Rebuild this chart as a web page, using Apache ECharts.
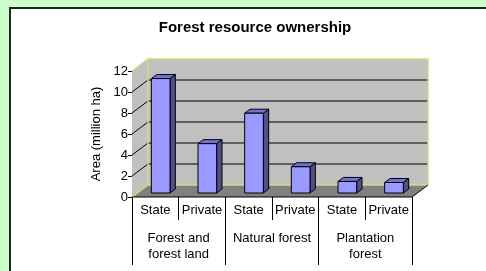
<!DOCTYPE html>
<html>
<head>
<meta charset="utf-8">
<script src="https://cdn.jsdelivr.net/npm/echarts@6/dist/echarts.min.js"></script>
<style>
body{margin:0;background:#CCFFCC;overflow:hidden;}
#box{position:absolute;left:9px;top:7px;width:500px;height:300px;background:#fff;border:2px solid #222;}
#main{position:absolute;left:0;top:0;width:486px;height:271px;}
</style>
</head>
<body>
<div id="box"></div>
<div id="main"></div>
<script>
// forest resource ownership data
var owners = ['State','Private','State','Private','State','Private']
var groups = ['Forest and\nforest land','Natural forest','Plantation\nforest']
var areas = [10.9, 4.7, 7.6, 2.5, 1.1, 1.0]
var yTicks = [0,2,4,6,8,10,12]

var DX = 16, DY = -12   // depth of the fake 3d box
var font = 'Liberation Sans, Arial, sans-serif'

var chart = echarts.init(document.getElementById('main'))

function wallItem(params, api){
	var band = api.size([1,0])[0]
	var x0 = api.coord([0,0])[0] - band/2
	var x1 = api.coord([owners.length-1,0])[0] + band/2
	var yb = api.coord([0,yTicks[0]])[1]
	var yt = api.coord([0,yTicks[yTicks.length-1]])[1]
	var kids = []
	// back wall
	kids.push({type:'rect',shape:{x:x0+DX,y:yt+DY,width:x1-x0,height:yb-yt},style:{fill:'#C0C0C0',stroke:null}})
	// side wall
	kids.push({type:'polygon',shape:{points:[[x0,yt],[x0+DX,yt+DY],[x0+DX,yb+DY],[x0,yb]]},style:{fill:'#C0C0C0',stroke:null}})
	// floor
	kids.push({type:'polygon',shape:{points:[[x0,yb],[x0+DX,yb+DY],[x1+DX,yb+DY],[x1,yb]]},style:{fill:'#808080',stroke:null}})
	// gridlines on back and side walls
	for(var i=1;i<yTicks.length-1;i++){
		var y = api.coord([0,yTicks[i]])[1]
		kids.push({type:'line',shape:{x1:x0+DX,y1:y+DY,x2:x1+DX,y2:y+DY},style:{stroke:'#000',lineWidth:1}})
		kids.push({type:'line',shape:{x1:x0,y1:y,x2:x0+DX,y2:y+DY},style:{stroke:'#000',lineWidth:1}})
	}
	// yellow edges
	var ed = {stroke:'#D8D880',lineWidth:1.5,fill:null}
	kids.push({type:'polyline',shape:{points:[[x0,yt],[x0+DX,yt+DY],[x1+DX,yt+DY],[x1+DX,yb+DY]]},style:ed})
	kids.push({type:'polyline',shape:{points:[[x0+DX,yt+DY],[x0+DX,yb+DY],[x1+DX,yb+DY]]},style:ed})
	kids.push({type:'line',shape:{x1:x0,y1:yb,x2:x0+DX,y2:yb+DY},style:ed})
	// front and right floor edges
	kids.push({type:'polyline',shape:{points:[[x0,yb],[x1,yb],[x1+DX,yb+DY]]},style:{stroke:'#000',lineWidth:1,fill:null}})
	return {type:'group',children:kids}
}

function barItem(params, api){
	var i = api.value(0)
	var base = api.coord([i,0])
	var top = api.coord([i,api.value(1)])
	var bw = api.size([1,0])[0]*0.4
	var ox = DX/3, oy = DY/3
	var xl = base[0]-bw/2+ox, xr = base[0]+bw/2+ox
	var yT = top[1]+oy, yB = base[1]+oy
	var ln = {stroke:'#000',lineWidth:1}
	return {type:'group',children:[
		{type:'polygon',shape:{points:[[xr,yT],[xr+ox,yT+oy],[xr+ox,yB+oy],[xr,yB]]},style:Object.assign({fill:'#4F4F8C'},ln)},
		{type:'polygon',shape:{points:[[xl,yT],[xl+ox,yT+oy],[xr+ox,yT+oy],[xr,yT]]},style:Object.assign({fill:'#7272D0'},ln)},
		{type:'rect',shape:{x:xl,y:yT,width:bw,height:yB-yT},style:Object.assign({fill:'#9999FF'},ln)}
	]}
}

var option = {
	animation:false,
	title:{
		text:'Forest resource ownership',
		left:255, top:20, padding:0,
		textAlign:'center',
		textStyle:{fontFamily:font,fontSize:15,fontWeight:'bold',color:'#000'}
	},
	grid:{left:132,right:74,top:71,bottom:74,containLabel:false},
	xAxis:[
		{
			type:'category',
			data:owners,
			axisLine:{show:false},
			axisTick:{show:true,interval:0,length:23,lineStyle:{color:'#000'}},
			axisLabel:{interval:0,margin:7,fontFamily:font,fontSize:13,color:'#000'}
		},
		{
			type:'category',
			position:'bottom',
			data:groups,
			axisLine:{show:false},
			axisTick:{show:true,interval:0,length:68,lineStyle:{color:'#000'}},
			axisLabel:{interval:0,margin:33,lineHeight:16,fontFamily:font,fontSize:13,color:'#000'}
		}
	],
	yAxis:{
		type:'value',
		min:0, max:12, interval:2,
		name:'Area (million ha)',
		nameLocation:'middle',
		nameGap:29,
		nameTextStyle:{fontFamily:font,fontSize:13,color:'#000'},
		axisLine:{show:false},
		axisTick:{show:true,length:4,lineStyle:{color:'#000'}},
		axisLabel:{margin:4,fontFamily:font,fontSize:13,color:'#000'},
		splitLine:{show:false}
	},
	series:[
		{
			type:'custom',
			xAxisIndex:0,
			renderItem:wallItem,
			data:[[0,0]],
			z:1,
			silent:true
		},
		{
			type:'custom',
			xAxisIndex:0,
			renderItem:barItem,
			data:areas.map(function(v,i){return [i,v]}),
			z:2
		}
	]
}
chart.setOption(option)
</script>
</body>
</html>
